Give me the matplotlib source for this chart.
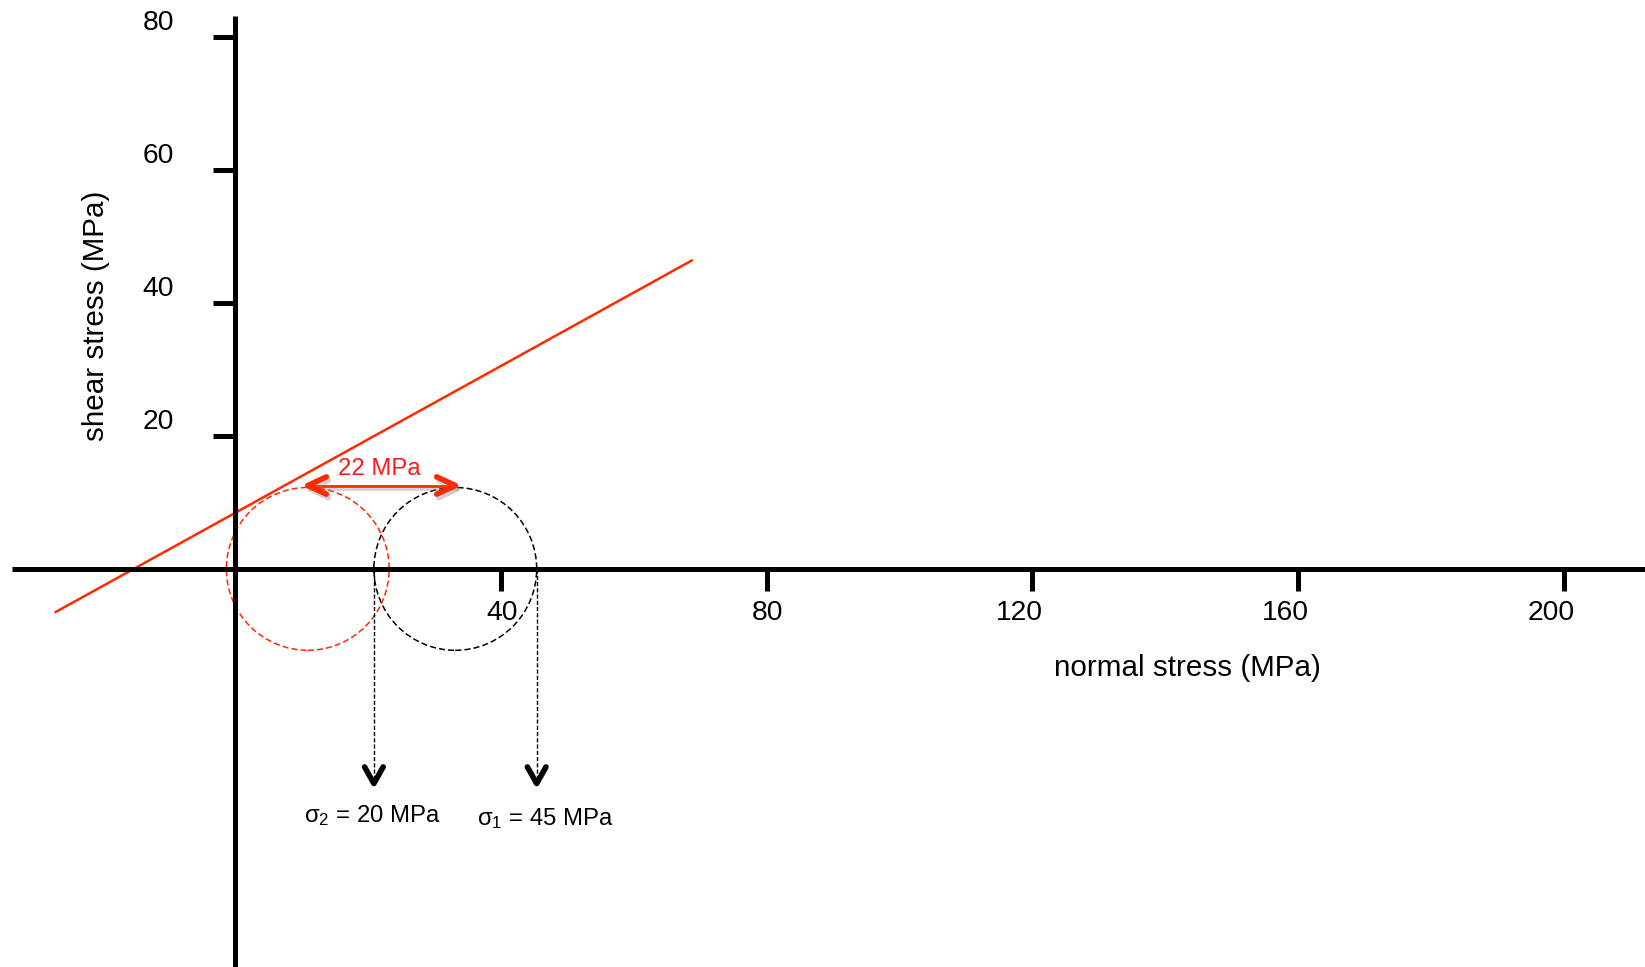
import matplotlib
matplotlib.use("Agg")
import matplotlib.pyplot as plt
from matplotlib.patches import Circle
from matplotlib import patheffects as pe

# values
x_ticks = [40, 80, 120, 160, 200]
y_ticks = [20, 40, 60, 80]
envelope_x = [-27.15, 68.9]      # failure envelope end points
envelope_y = [-6.58, 46.5]
sigma_3 = 20.9                   # drawn circle, minimum principal stress
sigma_1 = 45.4                   # drawn circle, maximum principal stress
shift = 22.2                     # pore pressure shift of the circle
shift_label = "22 MPa"
sigma_labels = ["σ$_2$ = 20 MPa", "σ$_1$ = 45 MPa"]
arrow_tip_y = -32.3

plt.rcParams['font.family'] = ['Liberation Sans', 'DejaVu Sans']
plt.rcParams['mathtext.fontset'] = 'custom'
plt.rcParams['mathtext.rm'] = 'Liberation Sans'
plt.rcParams['mathtext.it'] = 'Liberation Sans:italic'

RED = "#ff2a00"
AX_LW = 3.6
TICK_FS = 20.3
LABEL_FS = 21.3
NOTE_FS = 17.2

fig = plt.figure(figsize=(16.45, 9.67), dpi=100)
ax = fig.add_axes([0, 0, 1, 1])
scale = 6.645  # px per MPa
ax.set_xlim(-235 / scale, (1645 - 235) / scale)
ax.set_ylim(-(967 - 568.9) / scale, 568.9 / scale)

# axes through the origin
for s in ["top", "right"]:
    ax.spines[s].set_visible(False)
ax.spines["left"].set_position(("data", 0))
ax.spines["bottom"].set_position(("data", 0))
ax.spines["left"].set_bounds(ax.get_ylim()[0], 83.2)
ax.spines["bottom"].set_bounds(-33.5, ax.get_xlim()[1])
for s in ["left", "bottom"]:
    ax.spines[s].set_linewidth(AX_LW)
    ax.spines[s].set_capstyle("butt")

ax.set_xticks(x_ticks)
ax.set_yticks(y_ticks)
ax.tick_params(axis="both", direction="out", length=16, width=AX_LW,
               labelleft=False, labelbottom=False)
for v in y_ticks:
    ax.annotate(str(v), xy=(0, v), xytext=(-44, 10.4), textcoords="offset points",
                ha="right", va="center", fontsize=TICK_FS)
for v in x_ticks:
    # three digit labels sit a little left of their ticks in the original
    dx = -9.4 if v >= 100 else 0.7
    ax.annotate(str(v), xy=(v, 0), xytext=(dx, -31.6), textcoords="offset points",
                ha="center", va="center", fontsize=TICK_FS)

ax.text(143.3, -14.9, "normal stress (MPa)", ha="center", va="center", fontsize=LABEL_FS)
ax.text(-20.9, 38.1, "shear stress (MPa)", ha="center", va="center",
        rotation=90, fontsize=LABEL_FS)

# failure envelope
ax.plot(envelope_x, envelope_y, color=RED, lw=1.8, solid_capstyle="butt")

# Mohr circles
c_black = (sigma_1 + sigma_3) / 2
r = (sigma_1 - sigma_3) / 2
c_red = c_black - shift
ax.add_patch(Circle((c_black, 0), r, fill=False, ec="black", lw=1.1, ls=(0, (4, 2))))
ax.add_patch(Circle((c_red, 0), r, fill=False, ec=RED, lw=1.1, ls=(0, (4, 2))))

# dashed drop lines with chevrons
for s in [sigma_3, sigma_1]:
    ax.plot([s, s], [0, arrow_tip_y], color="black", lw=1.0, dashes=(3, 1.5))
    ax.plot([s - 1.4, s, s + 1.4], [arrow_tip_y + 2.5, arrow_tip_y, arrow_tip_y + 2.5],
            color="black", lw=4.0, solid_joinstyle="round", solid_capstyle="round")
ax.text(20.6, -37.1, sigma_labels[0], ha="center", va="center", fontsize=NOTE_FS)
ax.text(46.7, -37.5, sigma_labels[1], ha="center", va="center", fontsize=NOTE_FS)

# shift arrow
shadow = [pe.SimpleLineShadow(offset=(1.5, -2.5), shadow_color="gray", alpha=0.35), pe.Normal()]
ax.plot([c_red, c_black], [r + 0.3, r + 0.3], color=RED, lw=2.0, path_effects=shadow)
for tip, d in [(c_red, 1), (c_black, -1)]:
    ax.plot([tip + 2.8 * d, tip, tip + 2.8 * d], [r + 1.6, r + 0.3, r - 1.0],
            color=RED, lw=4.0, solid_joinstyle="round", solid_capstyle="round",
            path_effects=shadow)
ax.text(21.75, 15.0, shift_label, color="#ff1a1a", ha="center", va="center", fontsize=NOTE_FS)

fig.savefig("out.png", dpi=100)
